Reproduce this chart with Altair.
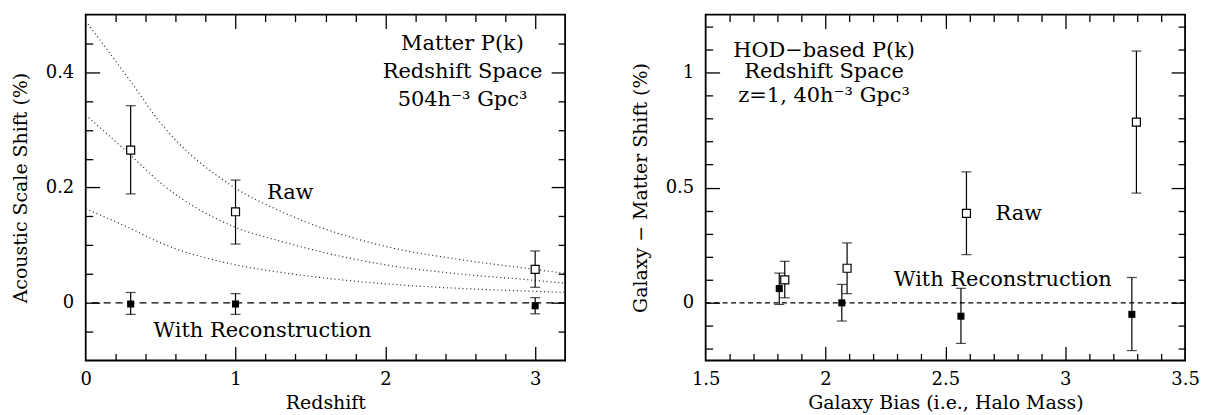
import altair as alt
import pandas as pd

# ---------------- Left panel data (Redshift vs acoustic scale shift) ----------------
z_raw = [0.3, 1.0, 3.0]
raw_val = [0.265, 0.158, 0.058]
raw_lo = [0.189, 0.102, 0.027]
raw_hi = [0.342, 0.213, 0.090]

z_rec = [0.3, 1.0, 3.0]
rec_val = [-0.002, -0.002, -0.005]
rec_lo = [-0.020, -0.020, -0.019]
rec_hi = [0.018, 0.016, 0.009]

curve_z = [0.0, 0.3, 0.5, 1.0, 1.3, 2.0, 2.5, 3.0, 3.2]
curve_top = [0.489, 0.384, 0.312, 0.199, 0.159, 0.098, 0.075, 0.058, 0.051]
curve_mid = [0.326, 0.256, 0.208, 0.131, 0.107, 0.066, 0.050, 0.039, 0.034]
curve_bot = [0.163, 0.129, 0.104, 0.066, 0.053, 0.033, 0.025, 0.020, 0.018]

left_notes = ["Matter P(k)", "Redshift Space", "504h\u207b\u00b3 Gpc\u00b3", "Raw", "With Reconstruction"]
left_note_x = [2.515, 2.515, 2.515, 1.365, 1.18]
left_note_y = [0.449, 0.401, 0.352, 0.190, -0.049]

# ---------------- Right panel data (Galaxy bias vs shift) ----------------
b_raw = [1.83, 2.09, 2.588, 3.297]
graw_val = [0.100, 0.150, 0.388, 0.784]
graw_lo = [0.022, 0.040, 0.209, 0.476]
graw_hi = [0.180, 0.260, 0.568, 1.092]

b_rec = [1.807, 2.068, 2.565, 3.278]
grec_val = [0.062, 0.000, -0.058, -0.050]
grec_lo = [-0.007, -0.079, -0.176, -0.207]
grec_hi = [0.129, 0.080, 0.063, 0.110]

right_notes = ["HOD\u2212based P(k)", "Redshift Space", "z=1, 40h\u207b\u00b3 Gpc\u00b3", "Raw", "With Reconstruction"]
right_note_x = [1.994, 1.994, 1.994, 2.806, 2.74]
right_note_y = [1.094, 0.999, 0.896, 0.386, 0.100]

# ---------------- tick values ----------------
left_xticks = [round(0.2 * i, 1) for i in range(1, 16)]
left_yticks = [round(-0.05 + 0.05 * i, 2) for i in range(0, 11)]
right_xticks = [round(1.6 + 0.1 * i, 1) for i in range(0, 19)]
right_yticks = [round(-0.2 + 0.1 * i, 1) for i in range(0, 15)]

W, H = 481, 347
FONT = "DejaVu Serif"


def tick_axis(orient, offset, values, major_test):
    return alt.Axis(
        orient=orient, offset=offset, values=values, labels=False, domain=False,
        grid=False, title=None, tickColor="black", tickWidth=1.3,
        tickSize={"condition": {"test": major_test, "value": 14}, "value": 7},
    )


def panel(raw_x, raw_v, raw_l, raw_h, rec_x, rec_v, rec_l, rec_h,
          notes, nx, ny, xdom, ydom, xlab_vals, ylab_vals, xtitle, ytitle,
          xticks, yticks, xmaj, ymaj, dash, curves=None):
    xs = alt.Scale(domain=xdom, nice=False, zero=False)
    ys = alt.Scale(domain=ydom, nice=False, zero=False)
    raw = pd.DataFrame({"x": raw_x, "v": raw_v, "lo": raw_l, "hi": raw_h})
    rec = pd.DataFrame({"x": rec_x, "v": rec_v, "lo": rec_l, "hi": rec_h})
    nts = pd.DataFrame({"x": nx, "y": ny, "t": notes})

    common = dict(labelFont=FONT, labelFontSize=18, labelColor="black",
                  titleFont=FONT, titleFontSize=19, titleFontWeight="normal",
                  titleColor="black", ticks=False, domain=False, grid=False,
                  labelFlush=False, labelOverlap=False, format="~g")
    layers = []
    # main axes (labels + titles)
    layers.append(
        alt.Chart(raw).mark_point(opacity=0).encode(
            x=alt.X("x:Q", scale=xs, axis=alt.Axis(
                orient="bottom", values=xlab_vals, labelPadding=10,
                title=xtitle, titlePadding=7, minExtent=26, maxExtent=26, **common)),
            y=alt.Y("v:Q", scale=ys, axis=alt.Axis(
                orient="left", values=ylab_vals, labelPadding=12,
                title=ytitle, titlePadding=11, minExtent=44, maxExtent=44, **common)),
        )
    )
    # inward ticks on four sides
    layers.append(alt.Chart(raw).mark_point(opacity=0).encode(
        x=alt.X("x:Q", scale=xs, axis=tick_axis("top", -H, xticks, xmaj)),
        y=alt.Y("v:Q", scale=ys, axis=None)))
    layers.append(alt.Chart(raw).mark_point(opacity=0).encode(
        x=alt.X("x:Q", scale=xs, axis=tick_axis("bottom", -H, xticks, xmaj)),
        y=alt.Y("v:Q", scale=ys, axis=None)))
    layers.append(alt.Chart(raw).mark_point(opacity=0).encode(
        x=alt.X("x:Q", scale=xs, axis=None),
        y=alt.Y("v:Q", scale=ys, axis=tick_axis("right", -W, yticks, ymaj))))
    layers.append(alt.Chart(raw).mark_point(opacity=0).encode(
        x=alt.X("x:Q", scale=xs, axis=None),
        y=alt.Y("v:Q", scale=ys, axis=tick_axis("left", -W, yticks, ymaj))))

    # zero dashed line
    layers.append(alt.Chart(raw).mark_rule(color="black", strokeWidth=1.1, strokeDash=dash).encode(
        y=alt.Y("zero:Q", scale=ys, axis=None)).transform_calculate(zero="0").transform_filter("datum.x == " + str(raw_x[0])))

    if curves is not None:
        cz, series = curves
        rows = []
        for name, vals in series.items():
            for zz, vv in zip(cz, vals):
                rows.append({"x": zz, "v": vv, "c": name})
        cdf = pd.DataFrame(rows)
        layers.append(alt.Chart(cdf).mark_line(color="#333", strokeWidth=1.2, strokeDash=[1.1, 2.8],
                                               interpolate="monotone", clip=True).encode(
            x=alt.X("x:Q", scale=xs, axis=None),
            y=alt.Y("v:Q", scale=ys, axis=None),
            detail="c:N"))

    for df, filled in ((raw, False), (rec, True)):
        layers.append(alt.Chart(df).mark_errorbar(ticks=True, size=10, thickness=1.2, color="black").encode(
            x=alt.X("x:Q", scale=xs, axis=None),
            y=alt.Y("lo:Q", scale=ys, axis=None, title=None),
            y2="hi:Q"))
        if filled:
            layers.append(alt.Chart(df).mark_square(size=50, color="black", opacity=1).encode(
                x=alt.X("x:Q", scale=xs, axis=None),
                y=alt.Y("v:Q", scale=ys, axis=None)))
        else:
            layers.append(alt.Chart(df).mark_square(size=64, fill="white", stroke="black",
                                                    strokeWidth=1.2, opacity=1, filled=True).encode(
                x=alt.X("x:Q", scale=xs, axis=None),
                y=alt.Y("v:Q", scale=ys, axis=None)))

    layers.append(alt.Chart(nts).mark_text(font=FONT, fontSize=21, color="black",
                                           align="center", baseline="middle").encode(
        x=alt.X("x:Q", scale=xs, axis=None),
        y=alt.Y("y:Q", scale=ys, axis=None),
        text="t:N"))

    return alt.layer(*layers).resolve_axis(x="independent", y="independent").properties(width=W, height=H)


left = panel(z_raw, raw_val, raw_lo, raw_hi, z_rec, rec_val, rec_lo, rec_hi,
             left_notes, left_note_x, left_note_y, [0, 3.2], [-0.1, 0.5],
             [0, 1, 2, 3], [0, 0.2, 0.4], "Redshift", "Acoustic Scale Shift (%)",
             left_xticks, left_yticks,
             "abs(datum.value - round(datum.value)) < 0.001",
             "abs(datum.value / 0.2 - round(datum.value / 0.2)) < 0.001",
             [7, 5],
             curves=(curve_z, {"a": curve_top, "b": curve_mid, "c": curve_bot}))

right = panel(b_raw, graw_val, graw_lo, graw_hi, b_rec, grec_val, grec_lo, grec_hi,
              right_notes, right_note_x, right_note_y, [1.5, 3.5], [-0.25, 1.25],
              [1.5, 2, 2.5, 3, 3.5], [0, 0.5, 1], "Galaxy Bias (i.e., Halo Mass)",
              "Galaxy \u2212 Matter Shift (%)",
              right_xticks, right_yticks,
              "abs(datum.value / 0.5 - round(datum.value / 0.5)) < 0.001",
              "abs(datum.value / 0.5 - round(datum.value / 0.5)) < 0.001",
              [5, 3.5])

chart = alt.hconcat(left, right, spacing=64).properties(
    padding={"left": 11, "top": 12, "right": 4, "bottom": 0},
    background="white",
).configure_view(stroke="black", strokeWidth=1.8)

chart.save("out.html", embed_options={"renderer": "svg", "actions": False})
